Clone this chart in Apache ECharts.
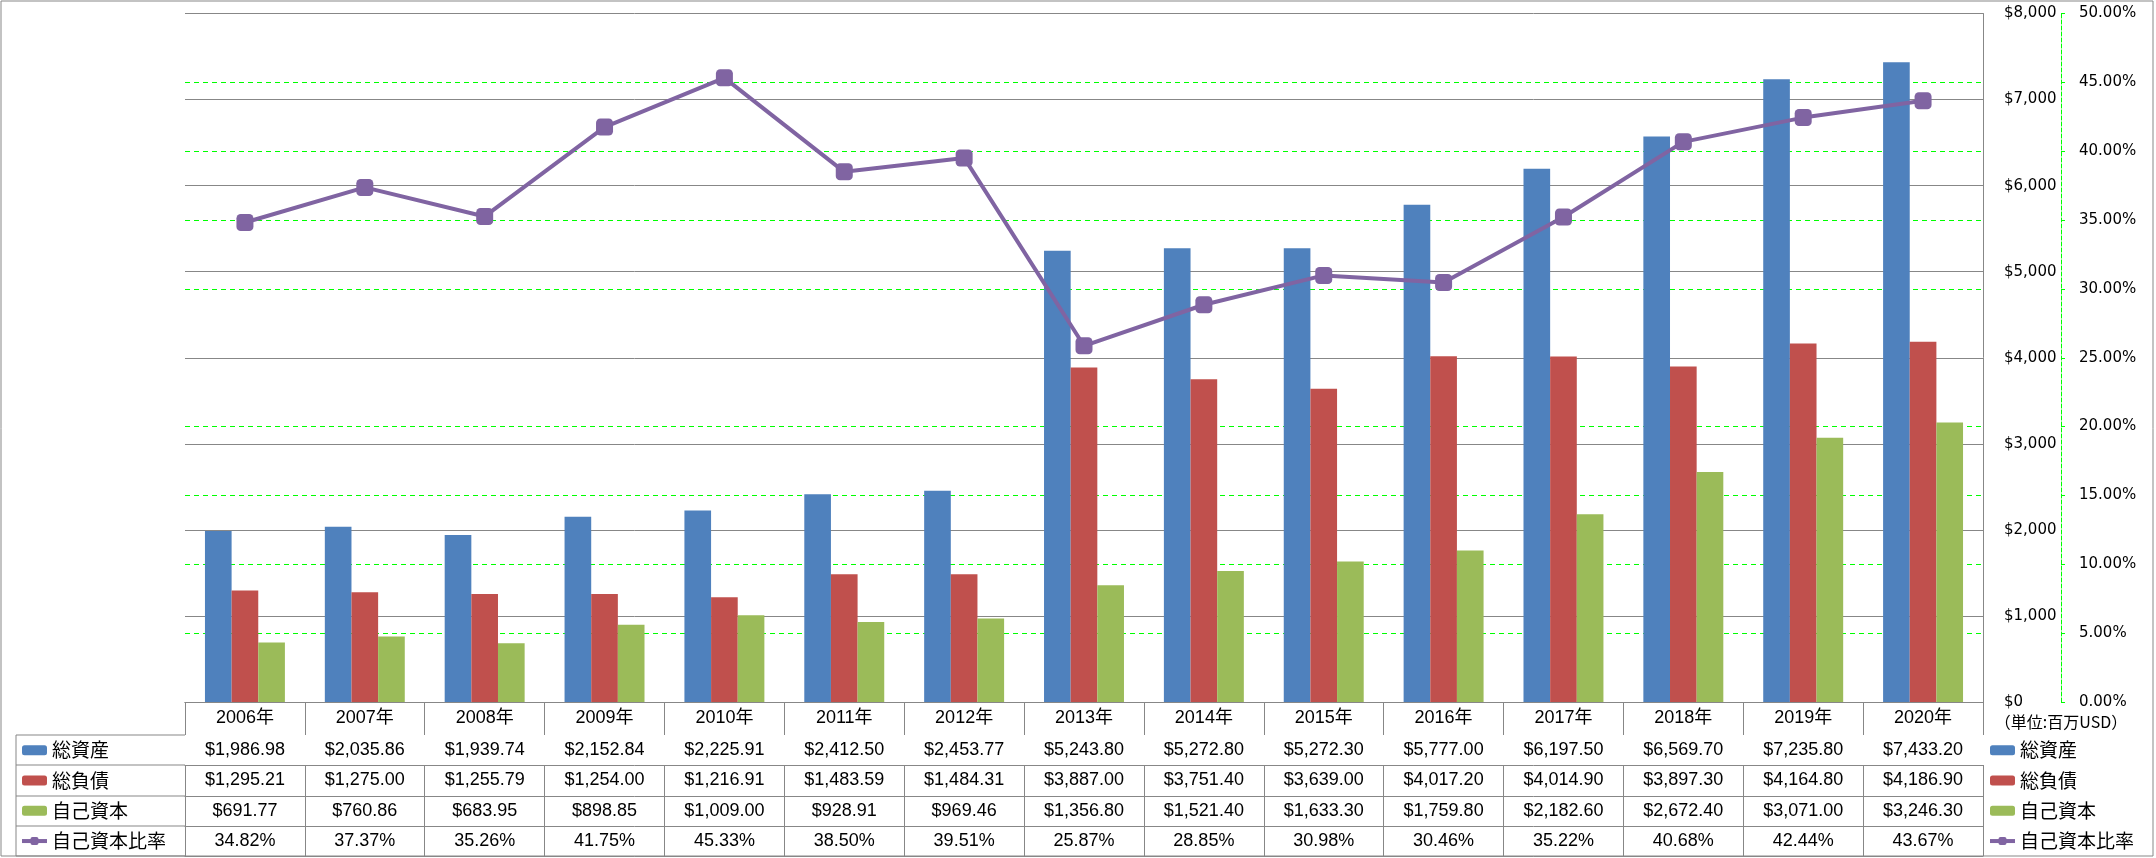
<!DOCTYPE html>
<html><head><meta charset="utf-8">
<script src="https://cdn.jsdelivr.net/npm/echarts@6/dist/echarts.min.js"></script>
<style>html,body{margin:0;padding:0;background:#fff}#c{width:2156px;height:858px}</style>
</head><body><div id="c"></div>
<script>
// ---- data ----
const categories = ['2006年','2007年','2008年','2009年','2010年','2011年','2012年','2013年','2014年','2015年','2016年','2017年','2018年','2019年','2020年'];
const totalAssets = [1986.98, 2035.86, 1939.74, 2152.84, 2225.91, 2412.50, 2453.77, 5243.80, 5272.80, 5272.30, 5777.00, 6197.50, 6569.70, 7235.80, 7433.20];
const totalLiabilities = [1295.21, 1275.00, 1255.79, 1254.00, 1216.91, 1483.59, 1484.31, 3887.00, 3751.40, 3639.00, 4017.20, 4014.90, 3897.30, 4164.80, 4186.90];
const equity = [691.77, 760.86, 683.95, 898.85, 1009.00, 928.91, 969.46, 1356.80, 1521.40, 1633.30, 1759.80, 2182.60, 2672.40, 3071.00, 3246.30];
const equityRatio = [34.82, 37.37, 35.26, 41.75, 45.33, 38.50, 39.51, 25.87, 28.85, 30.98, 30.46, 35.22, 40.68, 42.44, 43.67];
const seriesNames = ['総資産','総負債','自己資本','自己資本比率'];
const unitLabel = '（単位:百万USD）';

// ---- style / layout ----
const colors = ['#4F81BD','#C0504D','#9BBB59','#8064A2'];
const gray = '#878787';
const green = '#00FF00';
const jpFont = "'Noto Sans CJK JP', sans-serif";
const numFont = "'Liberation Sans', 'Noto Sans CJK JP', sans-serif";
const axisFont = "'DejaVu Sans', sans-serif";
const plotLeft = 185, plotRight = 1983, plotTop = 13.5, plotBottom = 702;
const rowEdges = [702, 735, 765, 796, 826, 856];
const legendColLeft = 16;

const money = v => '$' + v.toLocaleString('en-US', {minimumFractionDigits: 2, maximumFractionDigits: 2});
const pct = v => v.toFixed(2) + '%';
const tableRows = [
  totalAssets.map(money),
  totalLiabilities.map(money),
  equity.map(money),
  equityRatio.map(pct)
];

function tableAxis(i, labels) {
  const top = rowEdges[i], h = rowEdges[i + 1] - rowEdges[i];
  return {
    type: 'category', data: categories, position: 'bottom', offset: top - plotBottom,
    axisLine: {show: true, lineStyle: {color: gray, width: 1}},
    axisTick: {show: true, interval: 0, alignWithLabel: false, length: h, lineStyle: {color: gray, width: 1}},
    axisLabel: {
      show: true, interval: 0, margin: h / 2, verticalAlign: 'middle',
      fontSize: 18, fontFamily: numFont, color: '#000',
      formatter: labels ? (v, idx) => labels[idx] : undefined
    },
    splitLine: {show: false}
  };
}

const xAxes = [tableAxis(0, null)];
for (let r = 0; r < tableRows.length; r++) xAxes.push(tableAxis(r + 1, tableRows[r]));
xAxes.push({
  type: 'category', data: categories, position: 'bottom', offset: rowEdges[5] - plotBottom,
  axisLine: {show: true, lineStyle: {color: gray, width: 1}},
  axisTick: {show: false}, axisLabel: {show: false}, splitLine: {show: false}
});

const graphics = [
  {type: 'rect', shape: {x: 1, y: 1, width: 2152, height: 855}, style: {fill: null, stroke: gray, lineWidth: 1}, silent: true},
  {type: 'line', shape: {x1: legendColLeft, y1: rowEdges[1], x2: legendColLeft, y2: rowEdges[5]}, style: {stroke: gray, lineWidth: 1}, silent: true}
];
for (let i = 1; i < rowEdges.length; i++) {
  graphics.push({type: 'line', shape: {x1: legendColLeft, y1: rowEdges[i], x2: plotLeft, y2: rowEdges[i]}, style: {stroke: gray, lineWidth: 1}, silent: true});
}

const legendBase = {
  orient: 'vertical', top: rowEdges[1], itemWidth: 25, itemHeight: 10, itemGap: 0, padding: 0,
  selectedMode: false, data: seriesNames,
  lineStyle: {width: 4},
  textStyle: {fontSize: 19, lineHeight: 30.3, fontFamily: jpFont, color: '#000'}
};

const chart = echarts.init(document.getElementById('c'), null, {renderer: 'canvas'});
chart.setOption({
  animation: false,
  backgroundColor: '#fff',
  grid: {left: plotLeft, right: 2156 - plotRight, top: plotTop, bottom: 858 - plotBottom, containLabel: false, outerBoundsMode: 'none'},
  legend: [Object.assign({left: 20}, legendBase), Object.assign({left: 1988}, legendBase)],
  graphic: graphics,
  xAxis: xAxes,
  yAxis: [
    {
      type: 'value', min: 0, max: 8000, interval: 1000, position: 'right', z: 1,
      axisLine: {show: true, lineStyle: {color: gray, width: 1}},
      axisTick: {show: false},
      axisLabel: {margin: 21, fontSize: 15, fontFamily: axisFont, color: '#000', formatter: v => '$' + v.toLocaleString('en-US')},
      splitLine: {show: true, lineStyle: {color: gray, width: 1}}
    },
    {
      type: 'value', min: 0, max: 50, interval: 5, position: 'right', offset: 78, z: 0,
      name: unitLabel, nameLocation: 'start', nameGap: 12,
      nameTextStyle: {fontSize: 16, fontFamily: jpFont, color: '#000', align: 'center', verticalAlign: 'top'},
      axisLine: {show: true, lineStyle: {color: green, width: 1, type: 'dashed'}},
      axisTick: {show: true, length: 4, lineStyle: {color: green, width: 1}},
      axisLabel: {margin: 18, fontSize: 15, fontFamily: axisFont, color: '#000', formatter: v => v.toFixed(2) + '%'},
      splitLine: {show: true, showMinLine: false, showMaxLine: false, lineStyle: {color: green, width: 1, type: [5, 4]}}
    }
  ],
  series: [
    {name: seriesNames[0], type: 'bar', xAxisIndex: 0, yAxisIndex: 0, data: totalAssets, barGap: '0%', barCategoryGap: '33.3%', itemStyle: {color: colors[0]}},
    {name: seriesNames[1], type: 'bar', xAxisIndex: 0, yAxisIndex: 0, data: totalLiabilities, barGap: '0%', barCategoryGap: '33.3%', itemStyle: {color: colors[1]}},
    {name: seriesNames[2], type: 'bar', xAxisIndex: 0, yAxisIndex: 0, data: equity, barGap: '0%', barCategoryGap: '33.3%', itemStyle: {color: colors[2]}},
    {name: seriesNames[3], type: 'line', xAxisIndex: 0, yAxisIndex: 1, data: equityRatio, z: 5,
     symbol: 'roundRect', symbolSize: 17, lineStyle: {color: colors[3], width: 4},
     itemStyle: {color: colors[3]}}
  ]
});
</script></body></html>
